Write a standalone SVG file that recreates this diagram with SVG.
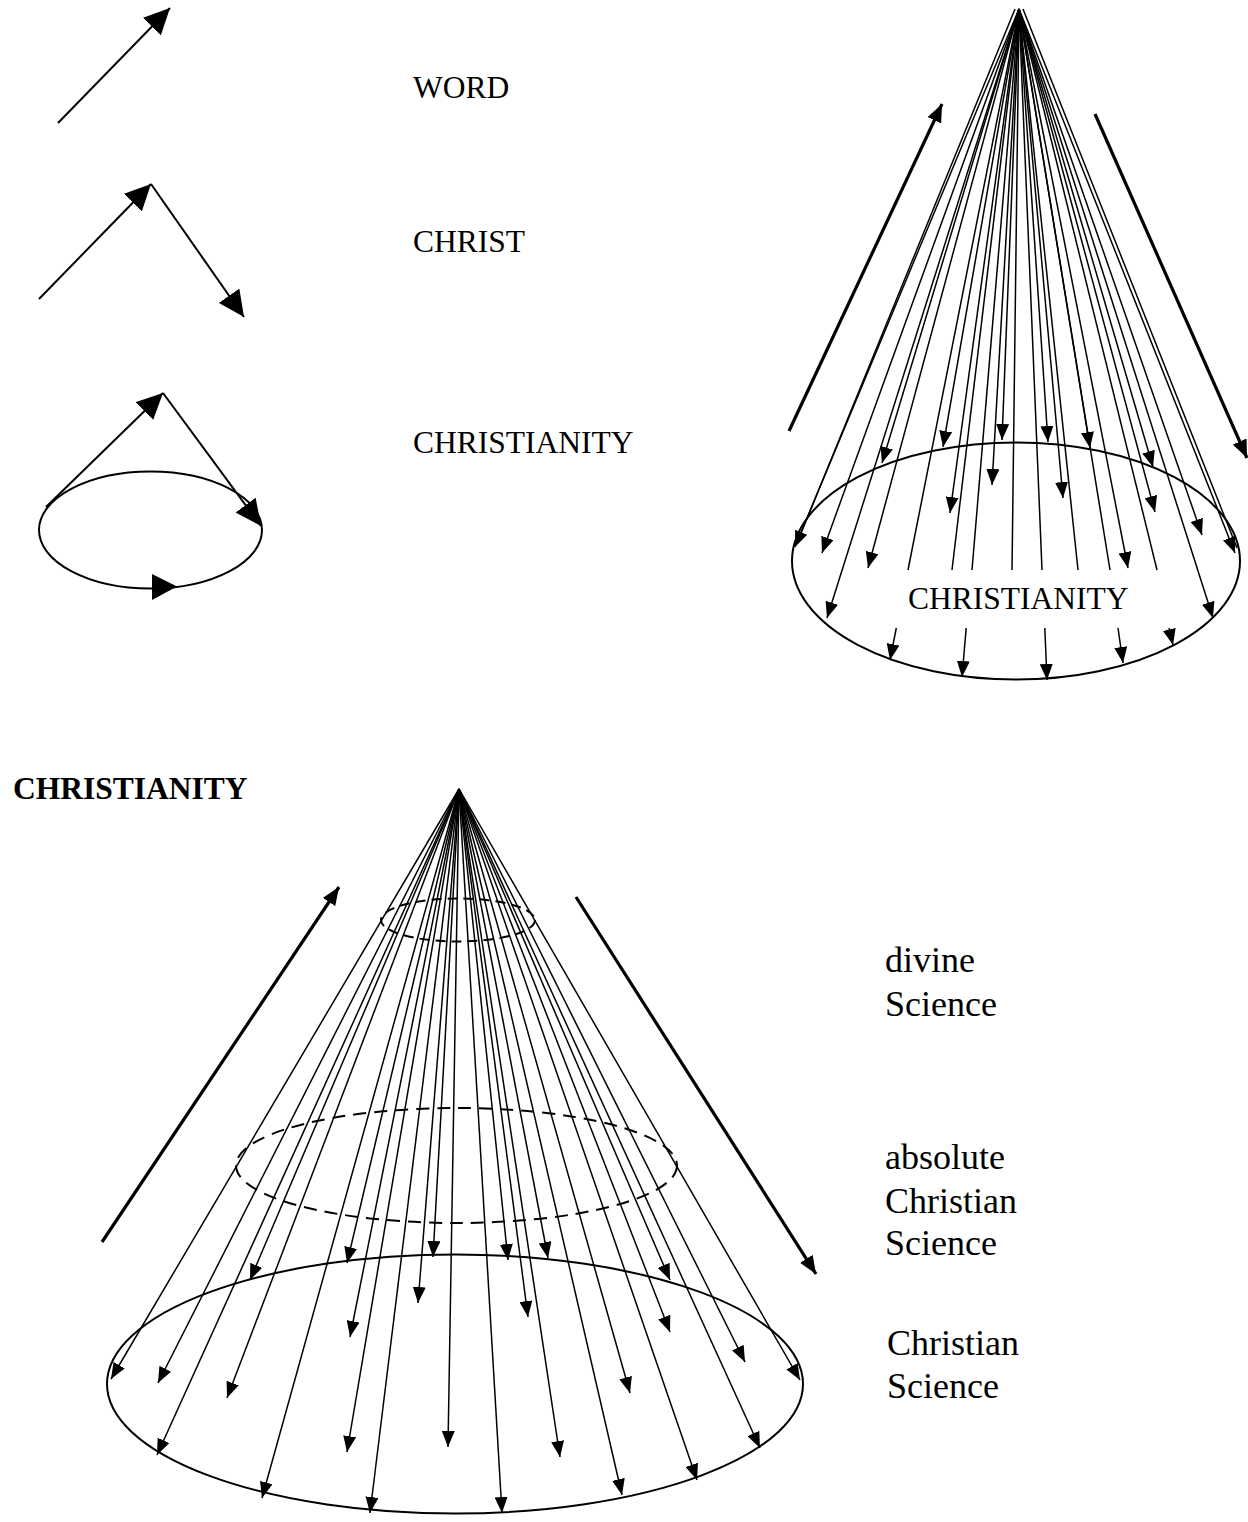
<svg xmlns="http://www.w3.org/2000/svg" width="1248" height="1522" viewBox="0 0 1248 1522">
<style>
.bg{fill:#fff}
line,path.l,ellipse{stroke:#000;fill:none}
.ray{stroke-width:1.5}
.fig{stroke-width:2}
.thick{stroke-width:3.2}
.dash1{stroke-width:2;stroke-dasharray:10 6}
.dash2{stroke-width:2;stroke-dasharray:13 8}
text{font-family:"Liberation Serif","Times New Roman",serif;fill:#000}
.t32{font-size:31.5px}
.t36{font-size:36px}
.b{font-weight:bold}
</style>
<defs>
<marker id="ah" markerUnits="userSpaceOnUse" viewBox="0 0 16 13" markerWidth="16" markerHeight="13" refX="16" refY="6.5" orient="auto"><path d="M0,0 L16,6.5 L0,13 z" fill="#000"/></marker>
<marker id="big" markerUnits="userSpaceOnUse" viewBox="0 0 26 25" markerWidth="26" markerHeight="25" refX="26" refY="12.5" orient="auto"><path d="M0,0 L26,12.5 L0,25 z" fill="#000"/></marker>
<marker id="th" markerUnits="userSpaceOnUse" viewBox="0 0 18 15" markerWidth="18" markerHeight="15" refX="18" refY="7.5" orient="auto"><path d="M0,0 L18,7.5 L0,15 z" fill="#000"/></marker>
</defs>
<rect class="bg" x="0" y="0" width="1248" height="1522"/>

<!-- Top-left figures -->
<g id="word-figure">
<line class="fig" x1="58" y1="123" x2="170" y2="8" marker-end="url(#big)"/>
</g>
<g id="christ-figure">
<line class="fig" x1="39" y1="299" x2="151" y2="184" marker-end="url(#big)"/>
<line class="fig" x1="151" y1="184" x2="244" y2="317" marker-end="url(#big)"/>
</g>
<g id="christianity-figure">
<ellipse class="fig" cx="150.5" cy="530" rx="111.5" ry="58.5"/>
<line class="fig" x1="46" y1="507" x2="163" y2="393" marker-end="url(#big)"/>
<line class="fig" x1="163" y1="393" x2="261" y2="526" marker-end="url(#big)"/>
<polygon points="177,586.5 152,574 152,600" fill="#000"/>
</g>

<g id="labels-top">
<text class="t32" x="413" y="98">WORD</text>
<text class="t32" x="413" y="252">CHRIST</text>
<text class="t32" x="413" y="453">CHRISTIANITY</text>
</g>

<!-- Top-right cone -->
<g id="cone-top">
<ellipse class="fig" cx="1016" cy="561" rx="224" ry="118.5"/>
<text class="t32" x="908" y="609">CHRISTIANITY</text>
</g>
<g id="connectors-top-cone">
<line class="thick" x1="789" y1="431" x2="942" y2="104" marker-end="url(#th)"/>
<line class="thick" x1="1095" y1="114" x2="1247" y2="458" marker-end="url(#th)"/>
<g class="ray">
<line x1="1019" y1="9" x2="795" y2="547" marker-end="url(#ah)"/>
<line x1="1015" y1="9" x2="797" y2="543"/>
<line x1="1019" y1="9" x2="822" y2="553" marker-end="url(#ah)"/>
<line x1="1019" y1="9" x2="868" y2="568" marker-end="url(#ah)"/>
<line x1="1019" y1="9" x2="882" y2="463" marker-end="url(#ah)"/>
<line x1="1019" y1="9" x2="943" y2="447" marker-end="url(#ah)"/>
<line x1="1019" y1="9" x2="1002" y2="440" marker-end="url(#ah)"/>
<line x1="1019" y1="9" x2="1048" y2="442" marker-end="url(#ah)"/>
<line x1="1019" y1="9" x2="1090" y2="448" marker-end="url(#ah)"/>
<line x1="1019" y1="9" x2="1153" y2="467" marker-end="url(#ah)"/>
<line x1="1019" y1="9" x2="1202" y2="535" marker-end="url(#ah)"/>
<line x1="1019" y1="9" x2="1235" y2="553" marker-end="url(#ah)"/>
<line x1="1023" y1="9" x2="1237" y2="548"/>
<line x1="1019" y1="9" x2="1213" y2="618" marker-end="url(#ah)"/>
<line x1="1019" y1="9" x2="1155" y2="512" marker-end="url(#ah)"/>
<line x1="1019" y1="9" x2="1128" y2="568" marker-end="url(#ah)"/>
<line x1="1019" y1="9" x2="1063" y2="498" marker-end="url(#ah)"/>
<line x1="1019" y1="9" x2="992" y2="485" marker-end="url(#ah)"/>
<line x1="1019" y1="9" x2="950" y2="513" marker-end="url(#ah)"/>
<line x1="1019" y1="9" x2="827" y2="618" marker-end="url(#ah)"/>
<line x1="1019" y1="9" x2="908" y2="570"/>
<line x1="1019" y1="9" x2="952" y2="570"/>
<line x1="1019" y1="9" x2="972" y2="570"/>
<line x1="1019" y1="9" x2="1012" y2="570"/>
<line x1="1019" y1="9" x2="1042" y2="570"/>
<line x1="1019" y1="9" x2="1078" y2="570"/>
<line x1="1019" y1="9" x2="1110" y2="570"/>
<line x1="1019" y1="9" x2="1157" y2="570"/>
<line x1="896.3" y1="628" x2="890" y2="660" marker-end="url(#ah)"/>
<line x1="966.2" y1="628" x2="962" y2="677" marker-end="url(#ah)"/>
<line x1="1044.8" y1="628" x2="1047" y2="680" marker-end="url(#ah)"/>
<line x1="1118" y1="628" x2="1123" y2="663" marker-end="url(#ah)"/>
<line x1="1169" y1="628" x2="1173" y2="645" marker-end="url(#ah)"/>
</g>
</g>

<!-- Bottom cone -->
<g id="heading-bottom">
<text class="t32 b" x="13" y="799">CHRISTIANITY</text>
</g>
<g id="cone-bottom">
<ellipse class="dash1" cx="458" cy="920" rx="77" ry="21.5"/>
<ellipse class="dash2" cx="456.5" cy="1165.5" rx="220.5" ry="57.5"/>
<ellipse class="fig" cx="455" cy="1384" rx="348" ry="129.5"/>
</g>
<g id="connectors-bottom-cone">
<line class="thick" x1="102" y1="1242" x2="339" y2="887" marker-end="url(#th)"/>
<line class="thick" x1="576" y1="897" x2="816" y2="1274" marker-end="url(#th)"/>
<g class="ray">
<line x1="459" y1="789" x2="111" y2="1379" marker-end="url(#ah)"/>
<line x1="459" y1="789" x2="158" y2="1383" marker-end="url(#ah)"/>
<line x1="459" y1="789" x2="157" y2="1455" marker-end="url(#ah)"/>
<line x1="459" y1="789" x2="250" y2="1280" marker-end="url(#ah)"/>
<line x1="459" y1="789" x2="227" y2="1398" marker-end="url(#ah)"/>
<line x1="459" y1="789" x2="262" y2="1498" marker-end="url(#ah)"/>
<line x1="459" y1="789" x2="347" y2="1263" marker-end="url(#ah)"/>
<line x1="459" y1="789" x2="350" y2="1337" marker-end="url(#ah)"/>
<line x1="459" y1="789" x2="347" y2="1452" marker-end="url(#ah)"/>
<line x1="459" y1="789" x2="370" y2="1513" marker-end="url(#ah)"/>
<line x1="459" y1="789" x2="418" y2="1303" marker-end="url(#ah)"/>
<line x1="459" y1="789" x2="433" y2="1257" marker-end="url(#ah)"/>
<line x1="459" y1="789" x2="448" y2="1447" marker-end="url(#ah)"/>
<line x1="459" y1="789" x2="502" y2="1513" marker-end="url(#ah)"/>
<line x1="459" y1="789" x2="508" y2="1260" marker-end="url(#ah)"/>
<line x1="459" y1="789" x2="528" y2="1317" marker-end="url(#ah)"/>
<line x1="459" y1="789" x2="548" y2="1258" marker-end="url(#ah)"/>
<line x1="459" y1="789" x2="560" y2="1457" marker-end="url(#ah)"/>
<line x1="459" y1="789" x2="630" y2="1393" marker-end="url(#ah)"/>
<line x1="459" y1="789" x2="622" y2="1495" marker-end="url(#ah)"/>
<line x1="459" y1="789" x2="670" y2="1332" marker-end="url(#ah)"/>
<line x1="459" y1="789" x2="670" y2="1280" marker-end="url(#ah)"/>
<line x1="459" y1="789" x2="745" y2="1362" marker-end="url(#ah)"/>
<line x1="459" y1="789" x2="800" y2="1380" marker-end="url(#ah)"/>
<line x1="459" y1="789" x2="760" y2="1448" marker-end="url(#ah)"/>
<line x1="459" y1="789" x2="697" y2="1480" marker-end="url(#ah)"/>
</g>
</g>

<g id="labels-right">
<text class="t36" x="885" y="972">divine</text>
<text class="t36" x="885" y="1016">Science</text>
<text class="t36" x="885" y="1169">absolute</text>
<text class="t36" x="885" y="1213">Christian</text>
<text class="t36" x="885" y="1255">Science</text>
<text class="t36" x="887" y="1355">Christian</text>
<text class="t36" x="887" y="1398">Science</text>
</g>
</svg>
